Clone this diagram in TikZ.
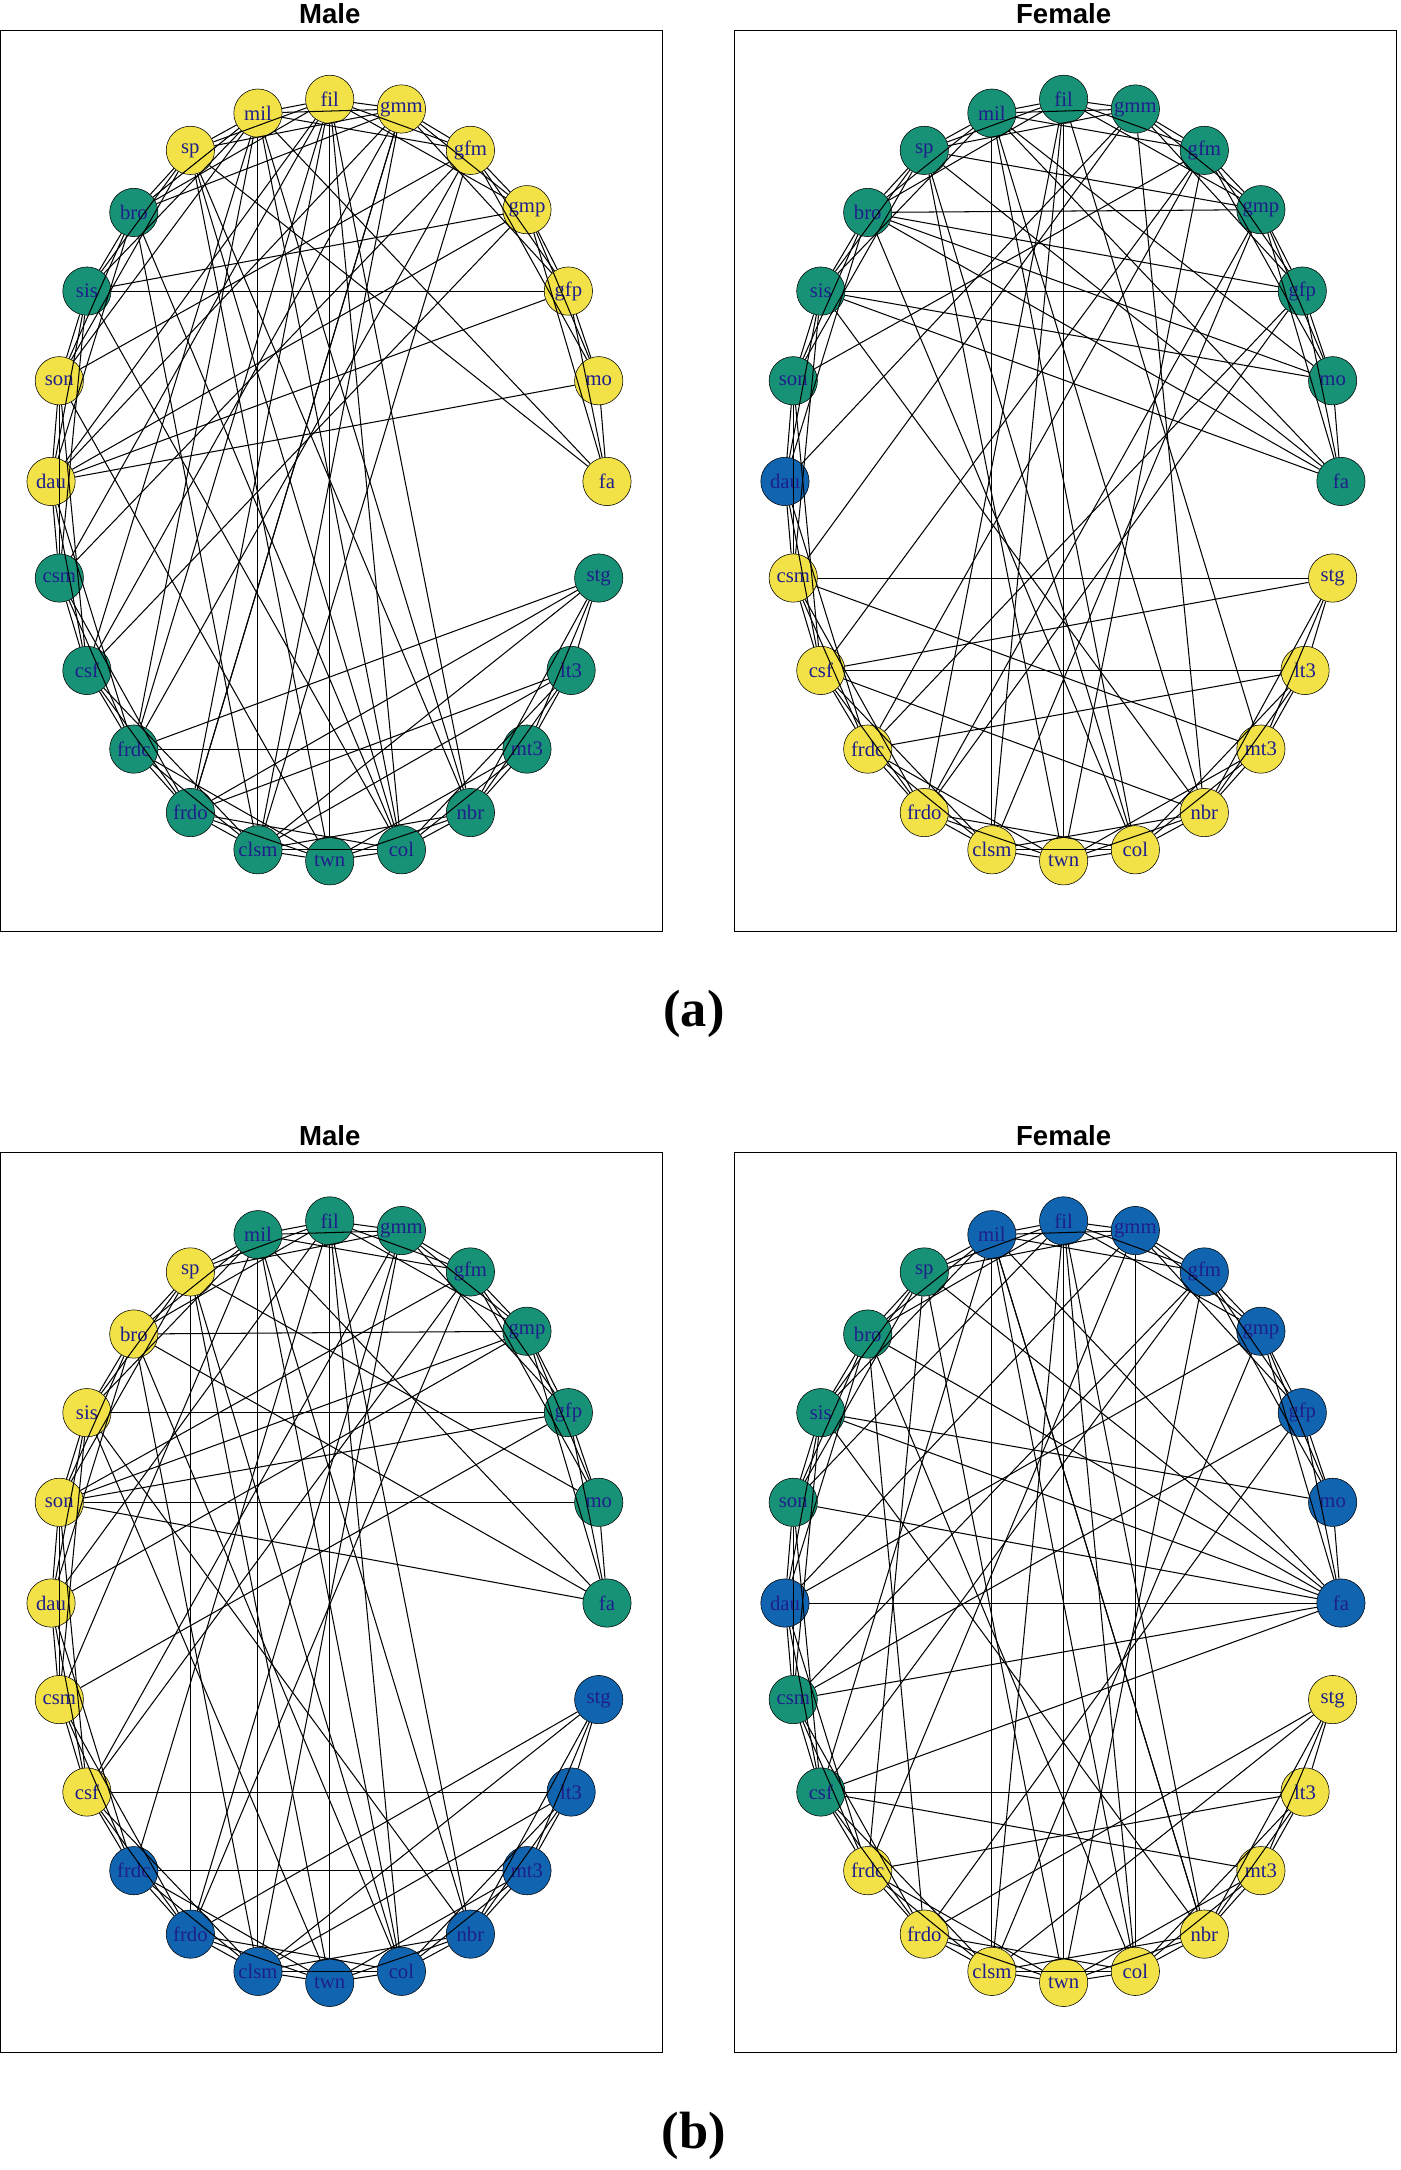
\documentclass[tikz,border=0pt]{standalone}
\usepackage{fontspec}
\setmainfont{Liberation Serif}
\setsansfont{Liberation Sans}
\definecolor{Y}{RGB}{242,226,72}
\definecolor{G}{RGB}{24,146,118}
\definecolor{B}{RGB}{17,101,176}
\definecolor{txt}{RGB}{30,30,140}
\tikzset{
  vtx/.style={circle,draw=black,thin,minimum size=35pt,inner sep=0pt,
    text=txt,font=\fontsize{15}{15}\selectfont},
  edge/.style={draw=black,line width=0.75pt},
  title/.style={font=\sffamily\bfseries\fontsize{20}{20}\selectfont},
  tag/.style={font=\bfseries\fontsize{38}{38}\selectfont}
}
\def\nodepos{239/72/fil,291/79/gmm,341/109/gfm,382/152/gmp,412/211/gfp,434/276/mo,
  440/349/fa,434/419/stg,414/486/lt3,382/543/mt3,341/589/nbr,291/616/col,239/624/twn,
  187/616/clsm,138/589/frdo,97/543/frdc,63/486/csf,43/419/csm,37/349/dau,43/276/son,
  63/211/sis,97/154/bro,138/109/sp,187/82/mil}
\newcommand\drawpanel[6]{%
  \begin{scope}[shift={(#2,#3)}]
    \draw (0,22) rectangle (480,675);
    \node[title] at (239,10) {#4};
    % vertices
    \foreach \x/\y/\t [count=\i] in \nodepos {
      \pgfmathsetmacro\c{{#5}[\i-1]}
      \node[vtx,fill=\c] (#1-\i) at (\x,\y) {\t};
    }
    % ties along the rim
    \foreach \i in {1,...,24}
      \foreach \k in {1,2,3} {
        \pgfmathtruncatemacro\j{mod(\i+\k-1,24)+1}
        \pgfmathtruncatemacro\skip{and(\i>4,\i<8)*and(\j>7,\j<11)}
        \ifnum\skip=0 \draw[edge] (#1-\i) -- (#1-\j);\fi
      }
    % long ties
    \foreach \a/\b in {#6}
      \draw[edge] (#1-\a) -- (#1-\b);
  \end{scope}}
\begin{document}
\begin{tikzpicture}[x=1pt,y=-1pt]
  \useasboundingbox (0,0) rectangle (1015,1573);
  \drawpanel{ma}{0}{0}{Male}
    {"Y","Y","Y","Y","Y","Y","Y","G","G","G","G","G","G","G","G","G","G","G","Y","Y","G","G","Y","Y"}
    {1/13,24/14,19/5,19/4,19/6,19/1,7/23,7/24,8/16,8/15,8/14,9/14,9/15,16/10,1/12,1/11,
     2/15,2/17,3/18,21/5,21/4,20/3,23/13,23/12,24/11,24/12,22/2,22/14,19/2,18/1,17/24,
     16/1,15/2,14/3,21/12,20/13,2/14,3/16,24/16,1/15,4/17,22/12,23/11,20/24}
  \drawpanel{fa}{532}{0}{Female}
    {"G","G","G","G","G","G","G","Y","Y","Y","Y","Y","Y","Y","Y","Y","Y","Y","B","G","G","G","G","G"}
    {1/13,24/14,21/5,22/4,17/9,7/21,7/22,7/23,7/24,6/22,6/21,6/24,8/18,8/17,9/16,5/15,
     5/16,4/14,3/17,2/18,23/12,23/13,24/11,1/15,1/10,22/12,21/11,20/3,18/10,17/11,16/3,
     15/4,19/2,22/5,23/4,11/2,12/24,14/1,13/3}
  \drawpanel{mb}{0}{813}{Male}
    {"G","G","G","G","G","G","G","B","B","B","B","B","B","B","B","B","Y","Y","Y","Y","Y","Y","Y","G"}
    {1/13,24/14,22/4,20/6,20/7,20/5,20/4,20/3,17/9,16/10,8/15,8/14,9/14,7/24,6/23,7/22,
     5/21,5/18,4/19,3/17,2/15,1/12,1/11,24/11,23/12,23/13,22/12,21/11,19/1,18/24,17/2,
     16/1,15/23,14/22,13/21,2/14,3/15,12/24}
  \drawpanel{fb}{532}{813}{Female}
    {"B","B","B","B","B","B","B","Y","Y","Y","Y","Y","Y","Y","Y","Y","G","G","B","G","G","G","G","B"}
    {1/13,24/14,7/19,7/20,7/18,7/17,7/22,7/24,7/23,7/21,6/21,17/9,8/15,8/14,9/16,5/18,
     4/19,3/17,2/16,5/15,4/14,1/12,1/11,24/12,24/11,23/13,22/12,21/11,20/1,19/2,18/3,
     17/24,16/23,15/22,14/1,13/3,12/2,11/24,10/17}
  \node[tag] (taga) at (503,735) {(a)};
  \node[tag] (tagb) at (503,1548) {(b)};
\end{tikzpicture}
\end{document}
